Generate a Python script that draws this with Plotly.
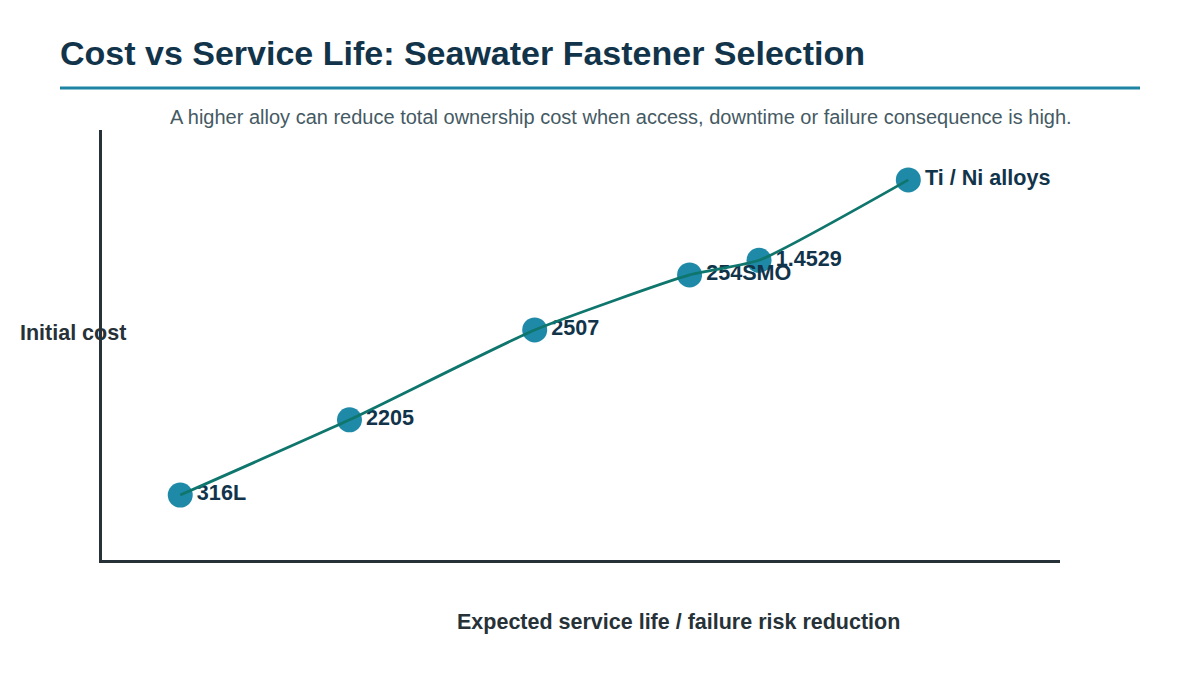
import plotly.graph_objects as go

# Data
alloys = ["316L", "2205", "2507", "254SMO", "1.4529", "Ti / Ni alloys"]
service_life = [0.98, 3.1, 5.42, 7.36, 8.23, 10.1]
initial_cost = [1.51, 3.26, 5.35, 6.63, 6.97, 8.84]

FONT = "Liberation Sans, Arial, sans-serif"
NAVY = "#12344a"
AXIS = "#263238"

fig = go.Figure()

# markers with labels (drawn first, line on top)
fig.add_trace(go.Scatter(
    x=service_life, y=initial_cost, mode="markers+text",
    text=alloys, textposition="middle right",
    textfont=dict(family=FONT, size=21.6, color=NAVY, weight="bold"),
    marker=dict(size=25, color="#1f8aa8"),
    hoverinfo="skip", showlegend=False,
))
fig.add_trace(go.Scatter(
    x=service_life, y=initial_cost, mode="lines",
    line=dict(color="#0f766e", width=2.8, shape="spline", smoothing=0.5),
    hoverinfo="skip", showlegend=False,
))

fig.update_layout(
    width=1200, height=700,
    margin=dict(l=102, r=140, t=130, b=140),
    paper_bgcolor="white", plot_bgcolor="white",
    font=dict(family=FONT),
    xaxis=dict(range=[0, 12], showgrid=False, zeroline=False, showticklabels=False,
               ticks="", showline=True, linecolor=AXIS, linewidth=3),
    yaxis=dict(range=[0, 10], showgrid=False, zeroline=False, showticklabels=False,
               ticks="", showline=True, linecolor=AXIS, linewidth=3),
    shapes=[dict(type="line", xref="paper", yref="paper",
                 x0=-42/958, x1=1038/958, y0=(560-88)/430, y1=(560-88)/430,
                 line=dict(color="#1f84a3", width=3))],
    annotations=[
        dict(text="<b>Cost vs Service Life: Seawater Fastener Selection</b>",
             xref="paper", yref="paper", x=-44/958, y=(560-53)/430,
             xanchor="left", yanchor="middle", showarrow=False,
             font=dict(family=FONT, size=34, color=NAVY)),
        dict(text="A higher alloy can reduce total ownership cost when access, downtime or failure consequence is high.",
             xref="paper", yref="paper", x=(621-102)/958, y=(560-117)/430,
             xanchor="center", yanchor="middle", showarrow=False,
             font=dict(family=FONT, size=20, color="#455a64")),
        dict(text="<b>Expected service life / failure risk reduction</b>",
             xref="paper", yref="paper", x=(678-102)/958, y=(560-622)/430,
             xanchor="center", yanchor="middle", showarrow=False,
             font=dict(family=FONT, size=21.5, color=AXIS)),
        dict(text="<b>Initial cost</b>",
             xref="paper", yref="paper", x=(18-102)/958, y=(560-333)/430,
             xanchor="left", yanchor="middle", showarrow=False,
             font=dict(family=FONT, size=21.5, color=AXIS)),
    ],
)

fig.write_html("out.html")
